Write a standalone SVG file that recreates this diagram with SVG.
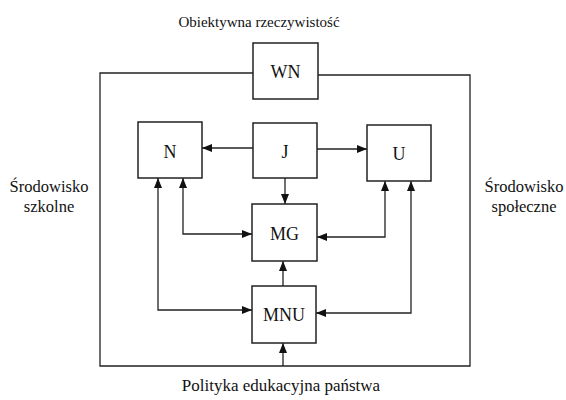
<svg xmlns="http://www.w3.org/2000/svg" width="566" height="400" viewBox="0 0 566 400">
<defs>
<marker id="ah" viewBox="0 0 10 10" refX="10" refY="5" markerWidth="10" markerHeight="10" markerUnits="userSpaceOnUse" orient="auto-start-reverse">
<path d="M0,1 L10,5 L0,9 Z" fill="#111"/>
</marker>
<style>
.box{fill:#fff;stroke:#222;stroke-width:1.5}
text{font-family:'Liberation Serif','Times New Roman',serif;fill:#111;text-anchor:middle}
.lbl{font-size:18px}
.txt{font-size:16.5px}
.ln{fill:none;stroke:#222;stroke-width:1.3}
</style>
</defs>
<rect width="566" height="400" fill="#fff"/>
<g id="frame">
<path class="ln" d="M253,73 L100,73 L100,366 L470,366 L470,75 L318,75" stroke-width="1.6"/>
</g>
<g id="labels">
<text class="txt" x="259" y="27" style="font-size:15px">Obiektywna rzeczywistość</text>
<text class="txt" x="49" y="192">Środowisko</text>
<text class="txt" x="49" y="212">szkolne</text>
<text class="txt" x="524" y="192">Środowisko</text>
<text class="txt" x="524" y="212">społeczne</text>
<text class="txt" x="281" y="391" style="font-size:17px">Polityka edukacyjna państwa</text>
</g>
<g id="connectors">
<line class="ln" x1="253" y1="148" x2="202" y2="148" marker-end="url(#ah)"/>
<line class="ln" x1="317" y1="149" x2="367" y2="149" marker-end="url(#ah)"/>
<line class="ln" x1="285" y1="178" x2="285" y2="204" marker-end="url(#ah)"/>
<path class="ln" d="M183,178 L183,234 L252,234" marker-start="url(#ah)" marker-end="url(#ah)"/>
<path class="ln" d="M158,178 L158,310 L252,310" marker-start="url(#ah)" marker-end="url(#ah)"/>
<path class="ln" d="M385,181 L385,237 L317,237" marker-start="url(#ah)" marker-end="url(#ah)"/>
<path class="ln" d="M411,181 L411,313 L316,313" marker-start="url(#ah)" marker-end="url(#ah)"/>
<line class="ln" x1="283" y1="286" x2="283" y2="261" marker-end="url(#ah)"/>
<line class="ln" x1="283" y1="366" x2="283" y2="343" marker-end="url(#ah)"/>
</g>
<g id="WN"><rect class="box" x="253" y="43" width="65" height="56"/><text class="lbl" x="285.5" y="78">WN</text></g>
<g id="N"><rect class="box" x="138" y="122" width="64" height="56"/><text class="lbl" x="170" y="158">N</text></g>
<g id="J"><rect class="box" x="253" y="123" width="64" height="55"/><text class="lbl" x="285" y="158">J</text></g>
<g id="U"><rect class="box" x="367" y="125" width="64" height="56"/><text class="lbl" x="399" y="160">U</text></g>
<g id="MG"><rect class="box" x="252" y="204" width="65" height="57"/><text class="lbl" x="284.5" y="240">MG</text></g>
<g id="MNU"><rect class="box" x="252" y="286" width="64" height="57"/><text class="lbl" x="284" y="321">MNU</text></g>
</svg>
